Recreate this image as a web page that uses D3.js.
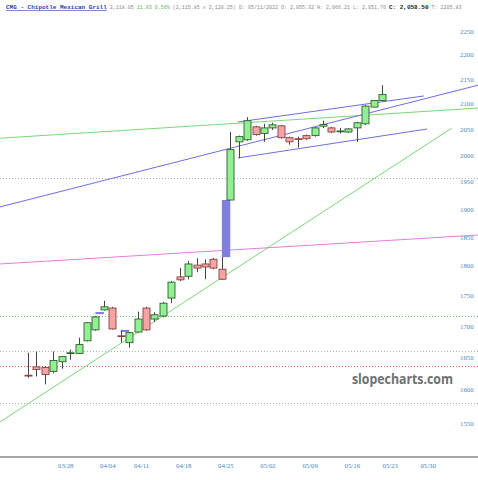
<!DOCTYPE html>
<html>
<head>
<meta charset="utf-8">
<script src="https://cdn.jsdelivr.net/npm/d3@7/dist/d3.min.js"></script>
<style>
  body { margin: 0; background: #fff; }
  svg { display: block; }
</style>
</head>
<body>
<svg id="chart"></svg>
<script>
// CMG daily candles, 03/22 .. 05/20 (2022)
var dates = ["03/22","03/23","03/24","03/25","03/28","03/29","03/30","03/31","04/01","04/04",
    "04/05","04/06","04/07","04/08","04/11","04/12","04/13","04/14","04/18","04/19",
    "04/20","04/21","04/22","04/25","04/26","04/27","04/28","04/29","05/02","05/03",
    "05/04","05/05","05/06","05/09","05/10","05/11","05/12","05/13","05/16","05/17",
    "05/18","05/19","05/20"]
var opens = [1622, 1635, 1634, 1628, 1643, 1656, 1656, 1676, 1693.5, 1726,
    1729, 1684, 1673, 1690, 1729, 1711, 1716, 1745.5, 1781, 1782,
    1801, 1803, 1811, 1794, 1916, 2025, 2029, 2054, 2041, 2052,
    2056, 2033, 2031, 2037, 2037, 2055.32, 2052, 2046, 2044, 2052,
    2060, 2093, 2106]
var highs = [1657, 1659, 1636, 1659, 1652, 1662, 1681, 1706, 1716, 1741,
    1731, 1692, 1690, 1723, 1731, 1722, 1739, 1774, 1796, 1808,
    1813, 1811, 1813, 1815, 2044, 2037, 2073, 2056, 2060, 2062,
    2058, 2035, 2035, 2039, 2054, 2066.21, 2054, 2052, 2052, 2064,
    2097, 2107, 2137]
var lows = [1618, 1620, 1608, 1625, 1632, 1646, 1655, 1675, 1692, 1725,
    1694, 1673, 1665, 1689, 1692, 1706, 1714, 1737, 1774, 1777,
    1789, 1777, 1794, 1776, 1916, 1994, 2027, 2037, 2025, 2048,
    2031, 2019.5, 2014, 2029, 2035, 2051.76, 2042, 2041, 2042, 2025,
    2058, 2093, 2105]
var closes = [1621, 1631, 1623, 1645, 1651, 1657, 1670, 1705, 1714.5, 1731,
    1695, 1683, 1689, 1711, 1693.5, 1718, 1737, 1772, 1776, 1803,
    1796, 1798, 1796, 1777, 2010, 2035, 2066, 2039, 2052, 2058,
    2033, 2025, 2030, 2031, 2052, 2058.5, 2044, 2046, 2050, 2062,
    2095, 2106.22, 2118.05]

// gaps: [from index, to index, low price, high price]
var gaps = [[8, 9, 1719, 1722.5], [11, 12, 1690, 1693.5], [23, 24, 1814.8, 1916]]

// trend lines: [index1, price1, index2, price2, colour]
var trendLines = [
    [-3.32, 1551.6, 50.3, 2051.8, "#7bd67b"],
    [-3.32, 2032, 53.39, 2091, "#7bd67b"],
    [-3.32, 1903.5, 53.39, 2137, "#6f6fe0"],
    [24.92, 2063.6, 46.98, 2115.3, "#6f6fe0"],
    [24.92, 1994.2, 47.34, 2049.8, "#6f6fe0"],
    [-3.32, 1803, 53.39, 1853.3, "#e07ee0"]
]

// horizontal dotted levels
var levels = [1957, 1716, 1660, 1636, 1580]
var levelColors = ["#b0b0b0", "#66c266", "#b0b0b0", "#ee6666", "#b0b0b0"]

var yTicks = [1550, 1600, 1650, 1700, 1750, 1800, 1850, 1900, 1950, 2000, 2050, 2100, 2150, 2200, 2250]
var xTickIdx = [4, 9, 13, 18, 23, 28, 33, 38, 42.5, 47]
var xTickLabels = ["03/28", "04/04", "04/11", "04/18", "04/25", "05/02", "05/09", "05/16", "05/23", "05/30"]

var width = 478
var height = 480
var axisY = 457

function drawChart(){

    const svg = d3.select("#chart")
        .attr("width", width)
        .attr("height", height)

    const x = d3.scaleLinear().domain([0, closes.length - 1]).range([28, 382])
    const y = d3.scaleLog().domain([1550, 2250]).range([423, 31])

    svg.append("clipPath").attr("id", "plotclip")
        .append("rect").attr("x", 0).attr("y", 14).attr("width", width).attr("height", axisY - 14)

    const plot = svg.append("g").attr("clip-path", "url(#plotclip)")

    // dotted levels
    plot.append("g").selectAll("line")
        .data(levels)
        .enter()
        .append("line")
        .attr("x1", 0)
        .attr("x2", width)
        .attr("y1", d => Math.round(y(d)) + 0.5)
        .attr("y2", d => Math.round(y(d)) + 0.5)
        .attr("stroke", (d, i) => levelColors[i])
        .attr("stroke-width", 1)
        .attr("stroke-dasharray", "1,2")

    // trend lines
    plot.append("g").selectAll("line")
        .data(trendLines)
        .enter()
        .append("line")
        .attr("x1", d => x(d[0]))
        .attr("y1", d => y(d[1]))
        .attr("x2", d => x(d[2]))
        .attr("y2", d => y(d[3]))
        .attr("stroke", d => d[4])
        .attr("stroke-width", 1)

    // gaps
    plot.append("g").selectAll("rect")
        .data(gaps)
        .enter()
        .append("rect")
        .attr("x", d => x(d[0]))
        .attr("width", d => x(d[1]) - x(d[0]))
        .attr("y", d => y(d[3]))
        .attr("height", d => Math.max(1.5, y(d[2]) - y(d[3])))
        .attr("fill", "#7f7fdc")

    const candles = dates.map((d, i) => ({
        date: d, i: i, o: opens[i], h: highs[i], l: lows[i], c: closes[i]
    }))

    const cg = plot.append("g")

    // wicks
    cg.selectAll("line")
        .data(candles)
        .enter()
        .append("line")
        .attr("x1", d => Math.round(x(d.i)) + 0.5)
        .attr("x2", d => Math.round(x(d.i)) + 0.5)
        .attr("y1", d => y(d.h))
        .attr("y2", d => y(d.l))
        .attr("stroke", "#444")
        .attr("stroke-width", 1)

    // bodies
    cg.selectAll("rect")
        .data(candles)
        .enter()
        .append("rect")
        .attr("x", d => Math.round(x(d.i)) - 3)
        .attr("width", 7)
        .attr("y", d => y(Math.max(d.o, d.c)))
        .attr("height", d => Math.max(0.8, Math.abs(y(d.o) - y(d.c))))
        .attr("fill", d => d.c >= d.o ? "#93ef93" : "#f4a4a4")
        .attr("stroke", d => d.c >= d.o ? "#2f5f2f" : "#8a4040")
        .attr("stroke-width", 0.9)

    // bottom axis line
    svg.append("line")
        .attr("x1", 0).attr("x2", width)
        .attr("y1", axisY).attr("y2", axisY)
        .attr("stroke", "#8a8a8a")
        .attr("stroke-width", 1.5)

    // y labels
    const yAxis = svg.append("g")
        .attr("transform", "translate(460,0)")
        .call(d3.axisRight(y).tickValues(yTicks).tickSize(0).tickPadding(0).tickFormat(d3.format("d")))
    yAxis.select(".domain").remove()
    yAxis.selectAll("text")
        .attr("font-family", "'Liberation Serif', 'DejaVu Serif', serif")
        .attr("font-size", 6.8)
        .attr("fill", "#4a88c0")

    // x labels
    const xAxis = svg.append("g")
        .attr("transform", "translate(3.5," + (axisY + 6) + ")")
        .call(d3.axisBottom(x).tickValues(xTickIdx).tickSize(0).tickPadding(0)
            .tickFormat((d, i) => xTickLabels[i]))
    xAxis.select(".domain").remove()
    xAxis.selectAll("text")
        .attr("font-family", "'Liberation Serif', 'DejaVu Serif', serif")
        .attr("font-size", 6.8)
        .attr("fill", "#4a88c0")

    // watermark
    svg.append("text")
        .attr("x", 352)
        .attr("y", 384)
        .attr("font-family", "'Open Sans', 'DejaVu Sans', sans-serif")
        .attr("font-weight", "bold")
        .attr("font-size", 13.5)
        .attr("textLength", 101)
        .attr("lengthAdjust", "spacingAndGlyphs")
        .attr("fill", "#6f6f6f")
        .text("slopecharts.com")

    // header
    const head = svg.append("text")
        .attr("x", 6)
        .attr("y", 9)
        .attr("font-family", "'Liberation Mono', 'DejaVu Sans Mono', monospace")
        .attr("font-size", 5)
        .attr("fill", "#8a8a8a")
    head.append("tspan")
        .attr("font-weight", "bold")
        .attr("font-size", 6)
        .attr("fill", "#2a3fa8")
        .attr("text-decoration", "underline")
        .text("CMG - Chipotle Mexican Grill")
    head.append("tspan").attr("dx", 3).text("2,118.05")
    head.append("tspan").attr("dx", 3).attr("fill", "#5cae5c").text("11.83 0.56%")
    head.append("tspan").attr("dx", 3).text("(2,115.85 x 2,120.25)")
    head.append("tspan").attr("dx", 3).text("D: 05/11/2022 O: 2,055.32 H: 2,066.21 L: 2,051.76")
    head.append("tspan").attr("dx", 3).attr("font-weight", "bold").attr("font-size", 6).attr("fill", "#222").text("C: 2,058.50")
    head.append("tspan").attr("dx", 3).text("T:  2205.83")
}

drawChart()
</script>
</body>
</html>
